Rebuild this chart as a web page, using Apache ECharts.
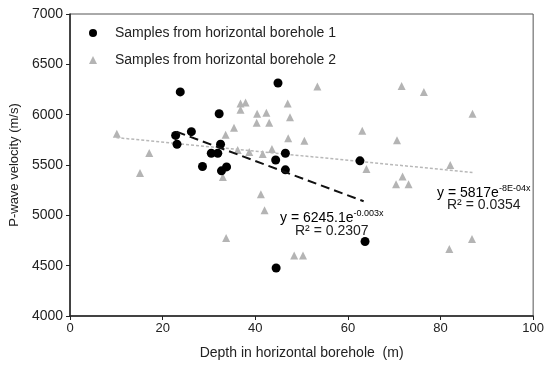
<!DOCTYPE html>
<html>
<head>
<meta charset="utf-8">
<script src="https://cdn.jsdelivr.net/npm/echarts@6/dist/echarts.min.js"></script>
<style>
html,body{margin:0;padding:0;background:#fff;}
#c{width:547px;height:365px;}
</style>
</head>
<body>
<div id="c"></div>
<script>
// Borehole 1 samples (depth m, P-wave velocity m/s)
const b1Depth = [23.8, 44.9, 32.2, 22.8, 26.2, 23.1, 32.5, 30.5, 31.9, 28.6, 32.7, 33.8, 44.4, 46.5, 46.5, 62.6, 44.5, 63.7];
const b1Vel   = [6226, 6315, 6009, 5794, 5831, 5706, 5706, 5617, 5617, 5485, 5442, 5481, 5550, 5617, 5452, 5541, 4477, 4740];
// Borehole 2 samples
const b2Depth = [10.1, 15.1, 17.1, 33.0, 33.6, 33.7, 35.4, 36.2, 36.8, 36.8, 37.9, 38.7, 40.4, 40.3, 41.2, 41.6, 42.0, 42.4, 43.0, 43.6, 47.0, 47.5, 47.1, 48.4, 50.3, 50.6, 53.4, 63.1, 64.0, 70.4, 70.6, 71.6, 71.8, 73.1, 76.4, 82.1, 81.9, 86.8, 86.9];
const b2Vel   = [5810, 5420, 5620, 5380, 5800, 4775, 5870, 5650, 6110, 6050, 6120, 5630, 6010, 5920, 5210, 5610, 5050, 6020, 5920, 5660, 6110, 5975, 5765, 4600, 4600, 5740, 6280, 5840, 5460, 5310, 5745, 6285, 5385, 5310, 6225, 5500, 4665, 4765, 6010];
// Trend line endpoints
const trend1Depth = [23.0, 63.4];
const trend1Vel   = [5830, 5140];
const trend2Depth = [10.0, 86.9];
const trend2Vel   = [5772, 5426];
const xTicks = [0, 20, 40, 60, 80, 100];
const yTicks = [4000, 4500, 5000, 5500, 6000, 6500, 7000];
const seriesNames = ['Samples from horizontal borehole 1', 'Samples from horizontal borehole 2'];

const zip = (a, b) => a.map((v, i) => [v, b[i]]);
const FONT = '"Liberation Sans", Arial, sans-serif';

const chart = echarts.init(document.getElementById('c'), null, {renderer: 'canvas'});
chart.setOption({
  animation: false,
  backgroundColor: '#fff',
  textStyle: {fontFamily: FONT},
  grid: {left: 70, right: 13, top: 14, bottom: 47.5, show: true, borderColor: '#555', borderWidth: 1, backgroundColor: 'transparent'},
  legend: {
    data: [
      {name: seriesNames[0], icon: 'circle'},
      {name: seriesNames[1], icon: 'triangle'}
    ],
    orient: 'vertical', left: 89, top: 25, padding: 0,
    itemWidth: 8, itemHeight: 8, itemGap: 11, itemTextGap: 5,
    textStyle: {fontFamily: FONT, fontSize: 14, color: '#222', lineHeight: 16, padding: [0, 0, 0, 13]}
  },
  xAxis: {
    type: 'value', min: xTicks[0], max: xTicks[xTicks.length - 1], interval: 20,
    name: 'Depth in horizontal borehole  (m)', nameLocation: 'middle', nameGap: 30,
    nameTextStyle: {fontFamily: FONT, fontSize: 14, color: '#222'},
    axisLine: {lineStyle: {color: '#222', width: 1.5}},
    axisTick: {show: true, inside: false, length: 4, lineStyle: {color: '#222'}},
    axisLabel: {fontFamily: FONT, fontSize: 13, color: '#222', margin: 6},
    splitLine: {show: false}
  },
  yAxis: {
    type: 'value', min: yTicks[0], max: yTicks[yTicks.length - 1], interval: 500,
    name: 'P-wave velocity (m/s)', nameLocation: 'middle', nameRotate: 90, nameGap: 47,
    nameTextStyle: {fontFamily: FONT, fontSize: 13, color: '#222'},
    axisLine: {show: true, lineStyle: {color: '#222', width: 1.5}},
    axisTick: {show: true, inside: false, length: 4, lineStyle: {color: '#222'}},
    axisLabel: {fontFamily: FONT, fontSize: 14, color: '#222', margin: 7, formatter: v => String(v)},
    splitLine: {show: false}
  },
  series: [
    {
      name: seriesNames[1], type: 'scatter', symbol: 'triangle', symbolSize: 8,
      itemStyle: {color: '#b4b4b4', opacity: 1}, data: zip(b2Depth, b2Vel), z: 2
    },
    {
      name: 'trend2', type: 'line', data: zip(trend2Depth, trend2Vel), symbol: 'none',
      lineStyle: {color: '#b8b8b8', width: 1.5, type: [3, 2]}, z: 3, silent: true
    },
    {
      name: seriesNames[0], type: 'scatter', symbol: 'circle', symbolSize: 9,
      itemStyle: {color: '#000', opacity: 1}, data: zip(b1Depth, b1Vel), z: 4
    },
    {
      name: 'trend1', type: 'line', data: zip(trend1Depth, trend1Vel), symbol: 'none',
      lineStyle: {color: '#111', width: 2, type: [9, 5]}, z: 5, silent: true
    }
  ],
  graphic: [
    {
      type: 'text', left: 280, top: 209, z: 10,
      style: {
        text: '{m|y = 6245.1e}{s|-0.003x}',
        rich: {
          m: {fontFamily: FONT, fontSize: 14, color: '#222', lineHeight: 16, verticalAlign: 'bottom'},
          s: {fontFamily: FONT, fontSize: 9, color: '#222', lineHeight: 16, verticalAlign: 'top'}
        }
      }
    },
    {
      type: 'text', left: 295, top: 224, z: 10,
      style: {text: 'R² = 0.2307', fontFamily: FONT, fontSize: 14, fill: '#222'}
    },
    {
      type: 'text', left: 437, top: 184, z: 10,
      style: {
        text: '{m|y = 5817e}{s|-8E-04x}',
        rich: {
          m: {fontFamily: FONT, fontSize: 14, color: '#222', lineHeight: 16, verticalAlign: 'bottom'},
          s: {fontFamily: FONT, fontSize: 9, color: '#222', lineHeight: 16, verticalAlign: 'top'}
        }
      }
    },
    {
      type: 'text', left: 447, top: 198, z: 10,
      style: {text: 'R² = 0.0354', fontFamily: FONT, fontSize: 14, fill: '#222'}
    }
  ]
});
</script>
</body>
</html>
